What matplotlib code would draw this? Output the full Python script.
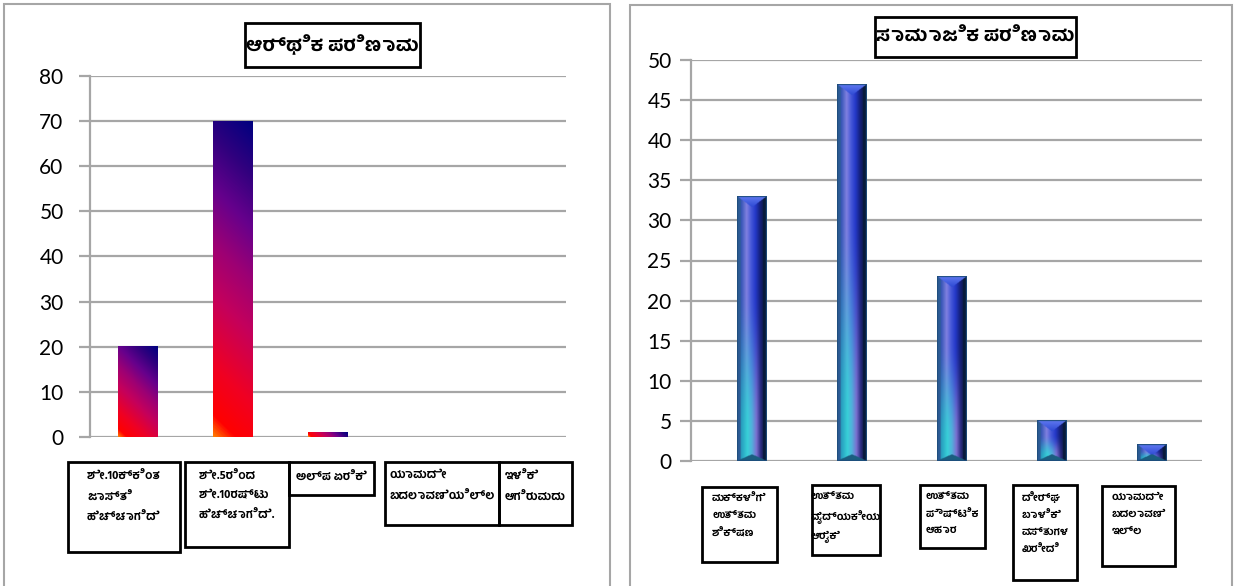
import numpy as np
import matplotlib
matplotlib.use("Agg")
import matplotlib.pyplot as plt
from matplotlib.colors import LinearSegmentedColormap, to_rgb
from matplotlib.patches import Rectangle

# ---------------- data ----------------
econ_title = "ಆರ್ಥಿಕ ಪರಿಣಾಮ"
econ_categories = [
    "ಶೇ.10ಕ್ಕಿಂತ\nಜಾಸ್ತಿ\nಹೆಚ್ಚಾಗಿದೆ",
    "ಶೇ.5ರಿಂದ\nಶೇ.10ರಷ್ಟು\nಹೆಚ್ಚಾಗಿದೆ.",
    "ಅಲ್ಪ ಏರಿಕೆ",
    "ಯಾವುದೇ\nಬದಲಾವಣೆಯಿಲ್ಲ",
    "ಇಳಿಕೆ\nಆಗಿರುವುದು",
]
econ_values = [20, 70, 1, 0, 0]
econ_yticks = [0, 10, 20, 30, 40, 50, 60, 70, 80]

social_title = "ಸಾಮಾಜಿಕ ಪರಿಣಾಮ"
social_categories = [
    "ಮಕ್ಕಳಿಗೆ\nಉತ್ತಮ\nಶಿಕ್ಷಣ",
    "ಉತ್ತಮ\nವೈದ್ಯಕೀಯ\nಆರೈಕೆ",
    "ಉತ್ತಮ\nಪೌಷ್ಟಿಕ\nಆಹಾರ",
    "ದೀರ್ಘ\nಬಾಳಿಕೆ\nವಸ್ತುಗಳ\nಖರೀದಿ",
    "ಯಾವುದೇ\nಬದಲಾವಣೆ\nಇಲ್ಲ",
]
social_values = [33, 47, 23, 5, 2]
social_yticks = [0, 5, 10, 15, 20, 25, 30, 35, 40, 45, 50]

# ---------------- layout (pixels) ----------------
W, H = 1239, 586
KFONT = ["Hind Mysuru", "Noto Sans Kannada", "DejaVu Sans"]
NFONT = ["Lato", "DejaVu Sans"]
GRID = "#A6A6A6"

econ_label_boxes = [(68, 462, 180, 552), (185, 462, 289, 547), (289, 462, 374, 495),
                    (385, 462, 499, 525), (499, 462, 572, 525)]
social_label_boxes = [(702, 487, 777, 562), (812, 485, 880, 555), (920, 485, 985, 548),
                      (1013, 485, 1077, 580), (1102, 486, 1175, 566)]


def fx(px):
    return px / W


def fy(py):
    return 1 - py / H


fig = plt.figure(figsize=(W / 100, H / 100), dpi=100)
fig.patch.set_facecolor("white")

# panel borders
for (x0, y0, x1, y1) in [(4, 4, 610, 600), (630, 5, 1232, 600)]:
    fig.patches.append(Rectangle((fx(x0), fy(y1)), fx(x1) - fx(x0), fy(y0) - fy(y1),
                                 transform=fig.transFigure, fill=False,
                                 edgecolor="#A6A6A6", lw=1.5))


def box_px(x0, y0, x1, y1, lw=2.0):
    fig.patches.append(Rectangle((fx(x0), fy(y1)), fx(x1) - fx(x0), fy(y0) - fy(y1),
                                 transform=fig.transFigure, fill=False,
                                 edgecolor="black", lw=lw, zorder=5))


def style_axes(ax, ymax, yticks, pad):
    ax.set_ylim(0, ymax)
    ax.set_yticks(yticks)
    ax.yaxis.grid(True, color=GRID, lw=1.6)
    ax.set_axisbelow(True)
    for s in ["top", "right", "bottom"]:
        ax.spines[s].set_visible(False)
    ax.spines["left"].set_color(GRID)
    ax.spines["left"].set_linewidth(1.6)
    ax.set_xticks([])
    ax.tick_params(axis="y", length=8, width=1.6, color=GRID, pad=pad)
    for t in ax.get_yticklabels():
        t.set_family(NFONT)
        t.set_fontsize(15)
    ax.patch.set_alpha(0)


# ---------------- left chart ----------------
axL = fig.add_axes([fx(90), fy(437), fx(566) - fx(90), fy(76) - fy(437)])
xL = np.arange(len(econ_values))
axL.set_xlim(-0.5, len(econ_values) - 0.5)
style_axes(axL, 80, econ_yticks, 11)
barsL = axL.bar(xL, econ_values, width=0.41, color="none", edgecolor="none")

cmapL = LinearSegmentedColormap.from_list("econ", [
    (0.0, "#FF7A00"), (0.06, "#FF0000"), (0.2, "#F00022"), (0.4, "#C4005C"),
    (0.55, "#9C0074"), (0.7, "#66008C"), (0.85, "#30007E"), (1.0, "#000080")])

fig.canvas.draw()


def bar_px(ax, patch):
    x, y = patch.get_x(), patch.get_y()
    w, h = patch.get_width(), patch.get_height()
    p0 = ax.transData.transform((x, y))
    p1 = ax.transData.transform((x + w, y + h))
    return x, y, w, h, abs(p1[0] - p0[0]), abs(p1[1] - p0[1])


for p in barsL:
    x, y, w, h, wp, hp = bar_px(axL, p)
    if h <= 0:
        continue
    nx, ny = max(int(wp), 2), max(int(hp), 2)
    gx, gy = np.meshgrid(np.linspace(0, wp, nx), np.linspace(0, hp, ny))
    t = (gx + gy) / (wp + hp)
    axL.imshow(t, cmap=cmapL, vmin=0, vmax=1, origin="lower",
               extent=[x, x + w, y, y + h], aspect="auto", zorder=3,
               interpolation="bilinear")
axL.set_xlim(-0.5, len(econ_values) - 0.5)
axL.set_ylim(0, 80)

# ---------------- right chart ----------------
axR = fig.add_axes([fx(691), fy(461), fx(1202) - fx(691), fy(60) - fy(461)])
xR = np.arange(len(social_values))
axR.set_xlim(-0.6, len(social_values) - 0.5)
style_axes(axR, 50, social_yticks, 6)
barsR = axR.bar(xR, social_values, width=0.29, color="none", edgecolor="none")
fig.canvas.draw()


def profile(stops, u):
    pos = np.array([s[0] for s in stops])
    cols = np.array([to_rgb(s[1]) for s in stops])
    return np.stack([np.interp(u, pos, cols[:, k]) for k in range(3)], axis=-1)


top_prof = [(0, "#2A5890"), (0.15, "#3A58B8"), (0.32, "#8080E0"), (0.47, "#4658D8"),
            (0.62, "#2438C8"), (0.78, "#142078"), (1, "#081430")]
bot_prof = [(0, "#2A6488"), (0.15, "#28A0C0"), (0.35, "#38D0D8"), (0.5, "#52B0DC"),
            (0.65, "#7A70D0"), (0.8, "#2A2C80"), (1, "#081430")]

for p in barsR:
    x, y, w, h, wp, hp = bar_px(axR, p)
    if h <= 0:
        continue
    nx, ny = max(int(wp * 2), 4), max(int(hp * 2), 4)
    gx, gy = np.meshgrid(np.linspace(0, wp, nx), np.linspace(0, hp, ny))
    u = gx / wp
    v = gy / hp
    s = np.clip((0.65 - v) / 0.55, 0, 1)
    s = s * s * (3 - 2 * s)
    img = profile(top_prof, u) * (1 - s[..., None]) + profile(bot_prof, u) * s[..., None]
    dl, dr, db, dt = gx, wp - gx, gy, hp - gy
    side = np.minimum(dl, dr)
    img[dl < 3.5] = to_rgb("#2D5C96")
    img[dr < 4.0] = to_rgb("#081A3C")
    top = dt < side * 0.75
    capc = profile([(0, "#6078F0"), (1, "#2A46D0")], np.clip(dt / (wp * 0.4), 0, 1))
    img[top] = capc[top]
    bot = db < side * 0.45
    img[bot] = to_rgb("#1B5E80")
    edge = (dl < 1.0) | (dr < 1.0) | (db < 1.0) | (dt < 1.0)
    img[edge] = to_rgb("#1E4D7C")
    axR.imshow(img, origin="lower", extent=[x, x + w, y, y + h], aspect="auto",
               zorder=3, interpolation="bilinear")
axR.set_xlim(-0.6, len(social_values) - 0.5)
axR.set_ylim(0, 50)

# ---------------- titles ----------------
box_px(245, 23, 420, 67)
fig.text(fx(332), fy(45), econ_title, ha="center", va="center", family=KFONT,
         fontsize=14, fontweight="bold")
box_px(875, 17, 1076, 57)
fig.text(fx(975), fy(37), social_title, ha="center", va="center", family=KFONT,
         fontsize=14, fontweight="bold")

# ---------------- category label boxes ----------------
for lab, (x0, y0, x1, y1) in zip(econ_categories, econ_label_boxes):
    box_px(x0, y0, x1, y1)
    fig.text(fx((x0 + x1) / 2), fy(y0 + 8), lab, ha="center", va="top",
             multialignment="left", family=KFONT, fontsize=8.3, fontweight="bold",
             linespacing=2.0)
for lab, (x0, y0, x1, y1) in zip(social_categories, social_label_boxes):
    box_px(x0, y0, x1, y1)
    fig.text(fx((x0 + x1) / 2), fy(y0 + 6), lab, ha="center", va="top",
             multialignment="left", family=KFONT, fontsize=7.6, fontweight="bold",
             linespacing=1.85)

fig.savefig("out.png", dpi=100, facecolor="white")
